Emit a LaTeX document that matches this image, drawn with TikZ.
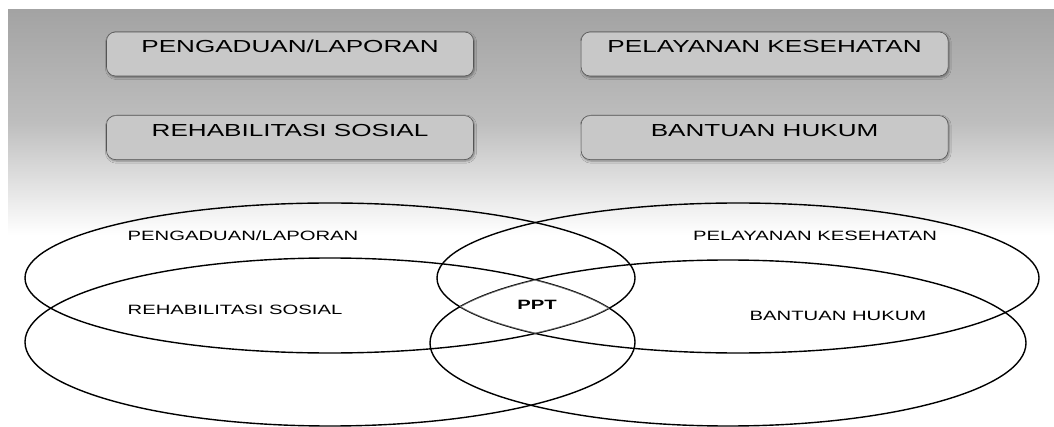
\documentclass[tikz,border=0pt]{standalone}
\usepackage{fontspec}
\setmainfont{Liberation Sans}
\newfontfamily\widesans[FakeStretch=1.5]{Liberation Sans}
\usepackage{tikz}
\usetikzlibrary{positioning,shadows.blur}
\definecolor{skytop}{RGB}{163,163,163}
\definecolor{skymid}{RGB}{190,190,190}
\definecolor{boxfill}{RGB}{200,200,200}
\definecolor{boxline}{RGB}{85,85,85}

\begin{document}
\begin{tikzpicture}[x=1pt,y=-1pt,
        service/.style={draw=boxline,fill=boxfill,rounded corners=9pt,semithick,minimum width=367pt,inner sep=0pt,text height=21pt,text depth=23pt,font=\widesans\fontsize{17.4}{20}\selectfont,blur shadow={shadow blur steps=5,shadow xshift=1pt,shadow yshift=-1.5pt}},
        area/.style={font=\widesans\fontsize{13.5}{16}\selectfont,anchor=base,inner sep=0pt},
        ring/.style={draw=black,line width=1.4pt},
        ]
      \useasboundingbox (0,0) rectangle (1054,427);
      % sky
      \fill[white] (0,0) rectangle (1054,427);
      \shade[top color=skytop,bottom color=white,middle color=skymid] (8,10) rectangle (1054,235);

      \coordinate (pengaduan) at (330,278);
      \coordinate (rehab) at (330,342);
      \coordinate (pelayanan) at (738,278);
      \coordinate (bantuan) at (728,343);

      \draw[ring] (pengaduan) ellipse [x radius=305,y radius=75];
      \draw[ring] (rehab) ellipse [x radius=305,y radius=84];
      \draw[ring] (pelayanan) ellipse [x radius=301,y radius=75];
      \draw[ring] (bantuan) ellipse [x radius=298,y radius=83];

      % faded middle
      \begin{scope}
        \clip (pengaduan) ellipse [x radius=305,y radius=75];
        \clip (rehab) ellipse [x radius=305,y radius=84];
        \clip (pelayanan) ellipse [x radius=301,y radius=75];
        \clip (bantuan) ellipse [x radius=298,y radius=83];
        \draw[white,opacity=.4,line width=1.4pt] (pengaduan) ellipse [x radius=305,y radius=75];
        \draw[white,opacity=.4,line width=1.4pt] (rehab) ellipse [x radius=305,y radius=84];
        \draw[white,opacity=.4,line width=1.4pt] (pelayanan) ellipse [x radius=301,y radius=75];
        \draw[white,opacity=.4,line width=1.4pt] (bantuan) ellipse [x radius=298,y radius=83];
      \end{scope}

      \node [area] (lbl-pengaduan) at (243,241) {PENGADUAN/LAPORAN};
      \node [area] (lbl-rehab) at (235,315) {REHABILITASI SOSIAL};
      \node [area] (lbl-pelayanan) at (815,241) {PELAYANAN KESEHATAN};
      \node [area] (lbl-bantuan) at (838,320) {BANTUAN HUKUM};
      \node [area,font=\widesans\bfseries\fontsize{13.5}{16}\selectfont] (ppt) at (537,310) {PPT};

      \node [service] (box-pengaduan) at (290,54) {PENGADUAN/LAPORAN};
      \node [service,below=39pt of box-pengaduan] (box-rehab) {REHABILITASI SOSIAL};
      \node [service,right=107pt of box-pengaduan] (box-pelayanan) {PELAYANAN KESEHATAN};
      \node [service,below=39pt of box-pelayanan] (box-bantuan) {BANTUAN HUKUM};
    \end{tikzpicture}
\end{document}
